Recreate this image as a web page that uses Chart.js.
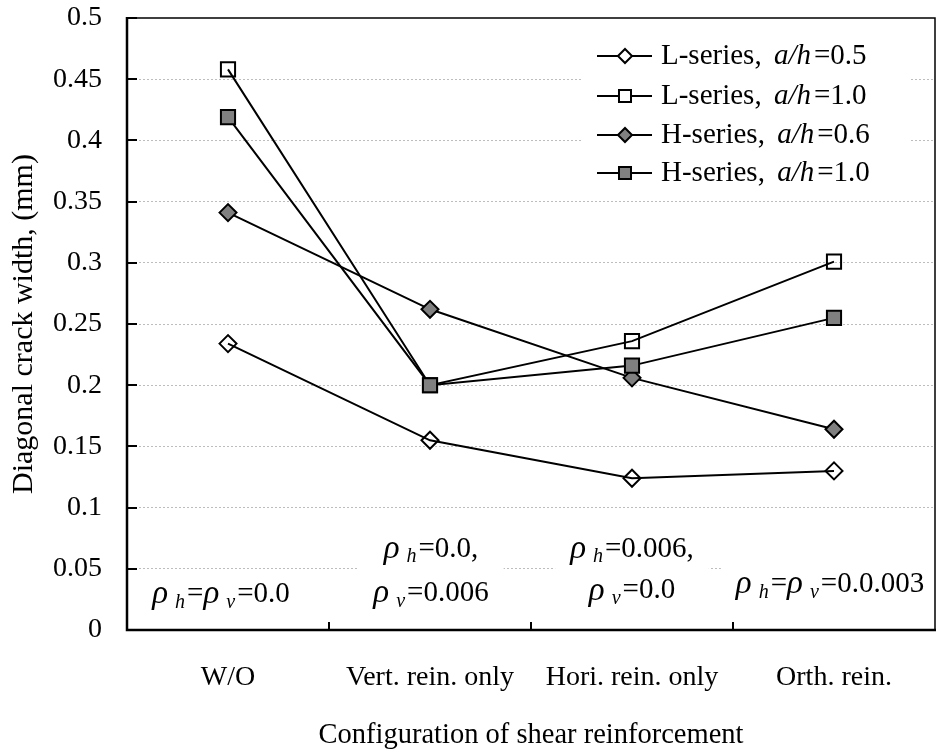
<!DOCTYPE html>
<html><head><meta charset="utf-8">
<script src="https://cdn.jsdelivr.net/npm/chart.js@4.4.1/dist/chart.umd.min.js"></script>
<style>html,body{margin:0;padding:0;background:#fff;overflow:hidden}#wrap{width:937px;height:753px;position:relative}</style>
</head><body><div id="wrap"><canvas id="c" width="937" height="753"></canvas></div>
<script>
// ---- data ----
const categories = ['W/O', 'Vert. rein. only', 'Hori. rein. only', 'Orth. rein.'];
const seriesNames = ['L-series, ', 'L-series, ', 'H-series, ', 'H-series, '];
const seriesRatioText = ['=0.5', '=1.0', '=0.6', '=1.0'];
const L05 = [0.234, 0.155, 0.124, 0.130];
const L10 = [0.458, 0.200, 0.236, 0.301];
const H06 = [0.341, 0.262, 0.206, 0.164];
const H10 = [0.419, 0.200, 0.216, 0.255];
const yTickValues = [0, 0.05, 0.1, 0.15, 0.2, 0.25, 0.3, 0.35, 0.4, 0.45, 0.5];
const yTickLabels = ['0', '0.05', '0.1', '0.15', '0.2', '0.25', '0.3', '0.35', '0.4', '0.45', '0.5'];
const annotationLines = [
  ['ρ_h=ρ_v=0.0'],
  ['ρ_h=0.0,', 'ρ_v=0.006'],
  ['ρ_h=0.006,', 'ρ_v=0.0'],
  ['ρ_h=ρ_v=0.0.003']
];
const xTitle = 'Configuration of shear reinforcement';
const yTitle = 'Diagonal crack width, (mm)';

// ---- styles ----
const FONT = '"Liberation Serif", "Times New Roman", serif';
const GRAY = '#808080';

function ds(label, data, style, fill, radius, order) {
  return {
    label, data, order,
    borderColor: '#000', borderWidth: 2, tension: 0, fill: false,
    pointStyle: style, pointRadius: radius, pointHoverRadius: radius,
    pointBackgroundColor: fill, pointBorderColor: '#000', pointBorderWidth: 2
  };
}

// rich text: 'ρ' italic, '_x' italic subscript
function segs(str) {
  const out = [];
  for (let i = 0; i < str.length; i++) {
    const ch = str[i];
    if (ch === 'ρ') out.push({t: 'ρ', f: 'italic 33px ' + FONT, dy: 0, gapAfter: 7});
    else if (ch === '_') { out.push({t: str[i + 1], f: 'italic 20px ' + FONT, dy: 8, gapAfter: 2}); i++; }
    else {
      const last = out[out.length - 1];
      if (last && last.plain) last.t += ch;
      else out.push({t: ch, f: '29px ' + FONT, dy: 0, gapAfter: 0, plain: true});
    }
  }
  return out;
}
function richWidth(ctx, s) {
  let w = 0;
  s.forEach(p => { ctx.font = p.f; w += ctx.measureText(p.t).width + p.gapAfter; });
  return w;
}
function drawRich(ctx, s, x, y) {
  s.forEach(p => { ctx.font = p.f; ctx.fillText(p.t, x, y + p.dy); x += ctx.measureText(p.t).width + p.gapAfter; });
}

const annotPos = [
  {dx: -7, ys: [0.029]},
  {dx: 1, ys: [0.066, 0.030]},
  {dx: 0, ys: [0.066, 0.032]},
  {dx: -4, ys: [0.037]}
];

const decor = {
  id: 'decor',
  afterDraw(chart) {
    const ctx = chart.ctx, a = chart.chartArea;
    const xs = chart.scales.x, ys = chart.scales.y;
    ctx.save();
    // annotations with white boxes
    ctx.textBaseline = 'middle';
    ctx.fillStyle = '#000';
    annotationLines.forEach((lines, i) => {
      const cx = xs.getPixelForValue(i) + annotPos[i].dx;
      const sl = lines.map(segs);
      const widths = sl.map(s => richWidth(ctx, s));
      const maxW = Math.max(...widths);
      const yPix = annotPos[i].ys.map(v => ys.getPixelForValue(v));
      const top = Math.min(...yPix) - 22, bot = Math.max(...yPix) + 22;
      let bl = Math.max(cx - maxW / 2 - 15, a.left + 3), br = Math.min(cx + maxW / 2 + 15, a.right - 1);
      ctx.fillStyle = '#fff';
      ctx.fillRect(bl, top, br - bl, bot - top);
      ctx.fillStyle = '#000';
      sl.forEach((s, k) => drawRich(ctx, s, cx - widths[k] / 2, yPix[k]));
    });
    // legend
    const lx0 = 583, lx1 = 911, ly0 = 26, ly1 = 194;
    ctx.fillStyle = '#fff';
    ctx.fillRect(lx0, ly0, lx1 - lx0, ly1 - ly0);
    const rows = [56, 96, 135, 173];
    chart.data.datasets.forEach((d, i) => {
      const y = rows[i];
      ctx.strokeStyle = '#000'; ctx.lineWidth = 2;
      ctx.beginPath(); ctx.moveTo(597, y); ctx.lineTo(652, y); ctx.stroke();
      ctx.fillStyle = d.pointBackgroundColor === 'rgba(0,0,0,0)' ? '#fff' : d.pointBackgroundColor;
      ctx.lineWidth = 2;
      Chart.helpers.drawPoint(ctx, {pointStyle: d.pointStyle, radius: d.pointRadius - 1.5, borderWidth: 2}, 625, y);
      ctx.fillStyle = '#000';
      let x = 661;
      ctx.font = '29px ' + FONT; ctx.fillText(seriesNames[i], x, y);
      x += ctx.measureText(seriesNames[i]).width + 5;
      ctx.font = 'italic 29px ' + FONT; ctx.fillText('a/h', x, y);
      x += ctx.measureText('a/h').width + 3;
      ctx.font = '29px ' + FONT; ctx.fillText(seriesRatioText[i], x, y);
    });
    // frame
    ctx.strokeStyle = '#000';
    ctx.lineWidth = 1.5;
    ctx.beginPath(); ctx.moveTo(a.left, a.top); ctx.lineTo(a.right, a.top); ctx.lineTo(a.right, a.bottom); ctx.stroke();
    ctx.lineWidth = 2.5;
    ctx.beginPath(); ctx.moveTo(a.left, a.top - 1); ctx.lineTo(a.left, a.bottom); ctx.lineTo(a.right + 1, a.bottom); ctx.stroke();
    // inside ticks
    ctx.lineWidth = 2;
    yTickValues.forEach(v => {
      const y = Math.round(ys.getPixelForValue(v));
      ctx.beginPath(); ctx.moveTo(a.left, y); ctx.lineTo(a.left + 10, y); ctx.stroke();
    });
    for (let i = 1; i < categories.length; i++) {
      const x = Math.round((xs.getPixelForValue(i - 1) + xs.getPixelForValue(i)) / 2);
      ctx.beginPath(); ctx.moveTo(x, a.bottom); ctx.lineTo(x, a.bottom - 8); ctx.stroke();
    }
    ctx.restore();
  }
};

new Chart(document.getElementById('c'), {
  type: 'line',
  data: {
    labels: categories,
    datasets: [
      ds('L-series, a/h=0.5', L05, 'rectRot', 'rgba(0,0,0,0)', 8.5, 3),
      ds('L-series, a/h=1.0', L10, 'rect', 'rgba(0,0,0,0)', 10, 2),
      ds('H-series, a/h=0.6', H06, 'rectRot', GRAY, 8.5, 1),
      ds('H-series, a/h=1.0', H10, 'rect', GRAY, 10, 0)
    ]
  },
  options: {
    responsive: false, animation: false, devicePixelRatio: 1,
    layout: {autoPadding: false, padding: {top: 18, right: 2, left: 0, bottom: 0}},
    plugins: {legend: {display: false}, tooltip: {enabled: false}},
    scales: {
      x: {
        offset: true,
        grid: {display: false, drawTicks: false},
        border: {display: false},
        ticks: {padding: 31, color: '#000', font: {family: FONT, size: 28}, maxRotation: 0, autoSkip: false},
        title: {display: true, text: xTitle, color: '#000', font: {family: FONT, size: 28.5}, padding: 0},
        afterFit: s => { s.height = 123; s.paddingLeft = 0; s.paddingRight = 0; }
      },
      y: {
        min: 0, max: 0.5,
        afterBuildTicks: s => { s.ticks = yTickValues.map(v => ({value: v})); },
        grid: {
          drawTicks: false, lineWidth: 1,
          color: c => (c.tick && (c.tick.value === 0 || c.tick.value === 0.5)) ? 'rgba(0,0,0,0)' : '#bdbdbd'
        },
        border: {display: false, dash: [2, 2]},
        ticks: {padding: 25, color: '#000', font: {family: FONT, size: 28}, callback: (v, i) => yTickLabels[i]},
        title: {display: true, text: yTitle, color: '#000', font: {family: FONT, size: 30}, padding: {top: 6, bottom: 0}},
        afterFit: s => { s.width = 127; s.paddingTop = 0; s.paddingBottom = 0; }
      }
    }
  },
  plugins: [decor]
});
</script></body></html>
